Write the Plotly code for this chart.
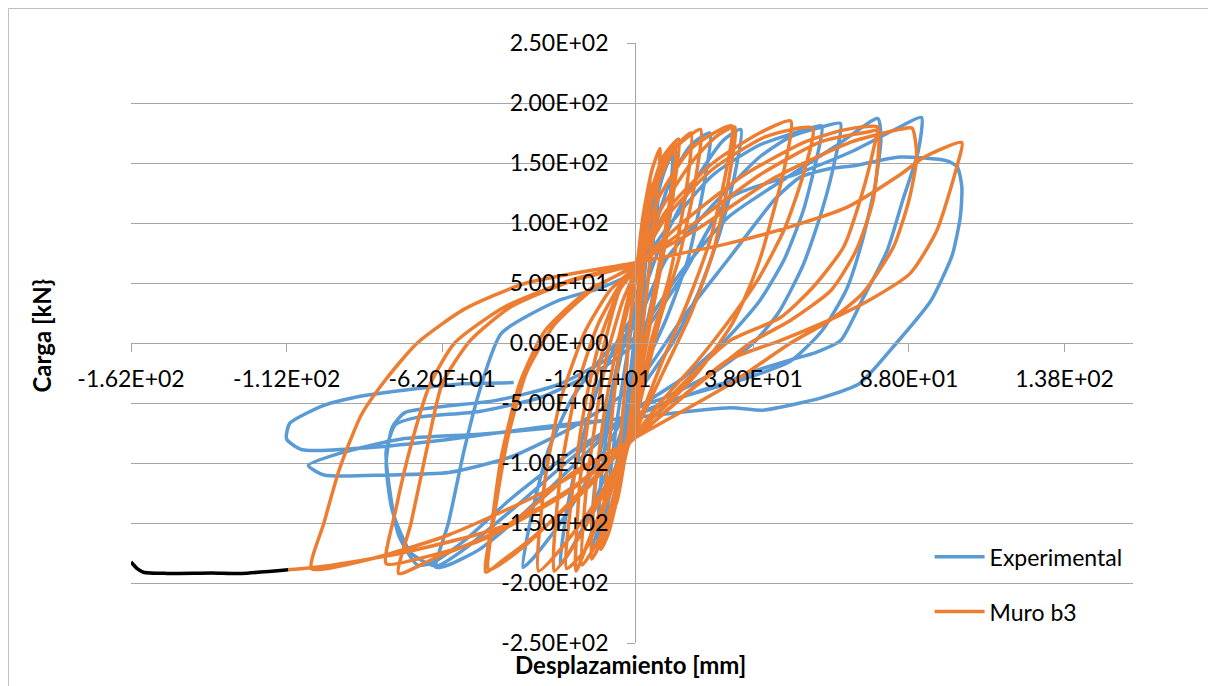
import plotly.graph_objects as go

# ---------------- data ----------------
x_tick_vals = [-162, -112, -62, -12, 38, 88, 138]
x_tick_text = ["-1.62E+02", "-1.12E+02", "-6.20E+01", "-1.20E+01", "3.80E+01", "8.80E+01", "1.38E+02"]
y_tick_vals = [-250, -200, -150, -100, -50, 0, 50, 100, 150, 200, 250]
y_tick_text = ["-2.50E+02", "-2.00E+02", "-1.50E+02", "-1.00E+02", "-5.00E+01", "0.00E+00",
               "5.00E+01", "1.00E+02", "1.50E+02", "2.00E+02", "2.50E+02"]

exp_pts = [
    (0, 0),
    (1, 40), (2, 70), (1.5, 40), (0, 0), (-1, -40), (-2, -70), (-1.5, -40), (0, 0),
    (2, 60), (4, 105), (3.5, 70), (1.5, 20), (0, -20), (-2, -65), (-4, -105), (-3.5, -70), (-1.5, -25), (0, 10),
    (3, 80), (6, 130), (8, 148), (7, 110), (4, 50), (1, -10), (-2, -60), (-6, -120), (-9, -150), (-8, -110), (-5, -50), (-2, 0), (0, 30),
    (4, 90), (9, 145), (13, 162), (12, 120), (8, 60), (3, 0), (0, -30), (-5, -90), (-10, -140), (-14, -170), (-13, -120), (-9, -60), (-5, -10), (0, 30),
    (4, 85), (9, 140), (12, 158), (11, 115), (7, 55), (2, -5), (0, -32), (-5, -95), (-10, -145), (-12, -165), (-11, -115), (-8, -55), (-4, -5), (0, 28),
    (5, 85), (12, 140), (18, 165), (24, 175), (22, 130), (17, 70), (10, 20), (3, -20), (0, -40), (-8, -100), (-16, -150), (-22, -178), (-24, -185),
    (-22, -140), (-17, -80), (-11, -30), (-5, 5), (0, 25),
    (8, 80), (18, 130), (28, 168), (34, 178), (32, 140), (27, 90), (20, 40), (12, 0), (0, -45), (-12, -100), (-24, -150), (-33, -180), (-36, -187),
    (-33, -140), (-28, -90), (-20, -45), (-10, -10), (0, 15),
    (10, 70), (25, 115), (40, 155), (50, 172), (60, 180), (66, 183), (64, 150), (60, 110), (54, 65), (46, 25), (38, 0), (25, -25), (10, -45), (0, -55),
    (-15, -90), (-35, -140), (-50, -172), (-60, -185), (-64, -187), (-60, -150), (-55, -90), (-50, -40), (-43, 8), (-25, 35), (-11, 46), (0, 60),
    (10, 95), (25, 140), (40, 165), (55, 178), (60, 181), (58, 150), (54, 110), (48, 70), (40, 35), (30, 5), (15, -30), (0, -55),
    (-20, -95), (-40, -140), (-55, -172), (-64, -186), (-72, -175), (-78, -140), (-80, -100), (-78, -70), (-74, -58), (-62, -53), (-45, -48),
    (-25, -35), (-10, -15), (0, 5),
    (15, 60), (30, 105), (50, 140), (65, 165), (78, 187), (79, 170), (77, 130), (73, 85), (68, 45), (60, 10), (50, -15), (35, -30), (15, -45), (0, -60),
    (-20, -90), (-40, -130), (-55, -165), (-65, -183), (-70, -185), (-76, -160), (-79, -120), (-80, -90), (-77, -68), (-70, -62), (-50, -57),
    (-30, -45), (-10, -20), (0, 0),
    (15, 55), (30.5, 121), (52, 141), (70, 160), (85, 180), (92, 188), (91, 160), (86, 119), (81, 77), (73, 36), (66, 2), (58, -8), (50, -14),
    (40, -22), (30, -32), (15, -45), (0, -60), (-25, -70), (-50, -76), (-75, -80), (-95, -92), (-105, -102), (-100, -110), (-80, -110),
    (-60, -108), (-40, -95), (-20, -70), (0, -35),
    (15, 20), (30, 70), (45, 120), (53, 138), (62, 145), (71, 148), (85, 155), (100, 152), (103.5, 147), (105, 130), (104.5, 105), (102, 74),
    (98, 50), (95, 35), (84, 0), (72, -34), (59.5, -46), (53, -50), (41, -56), (30.5, -54), (0, -62), (-30, -70), (-62, -81), (-85, -87),
    (-107, -89), (-112, -80), (-111, -67), (-100, -52), (-90.6, -45.6), (-70, -38), (-55, -34), (-39, -33),
]

muro_pts = [
    (0, 0),
    (1.5, 60), (3.5, 115), (5, 140), (4, 100), (2, 40), (0, -20), (-2, -70), (-4.5, -115), (-6, -135), (-5, -90), (-3, -30), (-1.5, 20), (0, 50),
    (2.5, 105), (5.5, 145), (8, 162), (6.5, 110), (4, 50), (1, -20), (-2, -70), (-5, -120), (-8.5, -158), (-11, -172), (-9.5, -120), (-7, -50),
    (-4, 10), (0, 55),
    (4, 115), (9, 155), (14, 170), (12, 120), (8, 60), (3, -10), (0, -55), (-5, -110), (-11, -160), (-17, -185), (-16, -130), (-13, -70), (-9, -10),
    (-4, 35), (0, 60),
    (4, 110), (9, 150), (13, 166), (11, 115), (7, 55), (2, -15), (0, -58), (-5, -115), (-10, -160), (-14, -180), (-13, -125), (-10, -60), (-6, -5),
    (-2, 40), (0, 60),
    (5, 120), (12, 160), (21, 178), (19, 130), (14, 70), (8, 20), (0, -65), (-8, -120), (-15, -165), (-19, -190), (-17.7, -115), (-14, -48),
    (-9.6, 2), (-5, 44), (0, 62),
    (6, 125), (13, 163), (18, 175), (16, 120), (11, 55), (5, 0), (0, -68), (-8, -125), (-16, -172), (-22, -188), (-20, -120), (-16, -50),
    (-11, 5), (-5, 45), (0, 63),
    (7, 118), (18, 162), (31, 181), (29, 140), (24, 85), (17, 35), (8, -20), (0, -72), (-12, -130), (-24, -172), (-31, -190), (-29, -115),
    (-24, -48), (-16, 10), (-8, 44), (0, 64),
    (8, 110), (18, 150), (26, 172), (32, 180), (30, 135), (25, 75), (18, 25), (8, -30), (0, -74), (-10, -125), (-20, -170), (-26, -190),
    (-24, -110), (-19, -40), (-12, 15), (-5, 48), (0, 65),
    (10, 110), (25, 150), (40, 175), (50, 185), (48, 146), (44, 105), (40, 69), (35, 36), (30.5, 13), (20, -25), (10, -52), (0, -76),
    (-15, -120), (-32, -160), (-43, -182), (-48, -191), (-46, -150), (-43, -95), (-37, -33), (-29, 10), (-15, 44), (0, 65),
    (10, 105), (25, 145), (42, 172), (57, 179), (54, 140), (48, 95), (40, 55), (32, 25), (20, -15), (8, -50), (0, -76), (-18, -125), (-35, -168),
    (-47, -189), (-45, -140), (-41, -80), (-35, -25), (-26, 15), (-13, 46), (0, 65),
    (15, 100), (35, 140), (55, 168), (68, 178), (78, 180), (77, 166), (73, 125), (67, 80), (57, 46), (46.6, 21), (30.5, 2), (15, -35), (0, -78),
    (-20, -120), (-45, -158), (-65, -180), (-76, -192), (-72, -150), (-67, -89), (-62, -34), (-53, 2), (-40, 30), (-20, 52), (0, 66),
    (18, 98), (40, 140), (60, 168), (75, 176), (78, 177), (76.5, 119), (71, 77), (63, 44), (50, 19), (37, 0), (20, -35), (0, -79), (-22, -125),
    (-50, -165), (-70, -180), (-80, -184), (-77, -140), (-72, -85), (-66, -35), (-58, 0), (-42, 30), (-20, 53), (0, 67),
    (20, 95), (45, 138), (70, 168), (85, 178), (89, 179), (90.5, 155), (88, 119), (83, 80), (73, 41), (62.6, 19), (50, 0), (30, -35), (0, -79),
    (-30, -125), (-60, -160), (-85, -180), (-104, -188), (-100, -150), (-95, -105), (-88, -60), (-80, -30), (-70, 0), (-55, 28), (-35, 50), (0, 67),
    (30, 83), (50, 97), (68, 113), (85, 140), (93, 155), (105, 167), (103.4, 147), (97, 94), (88.4, 58), (75.5, 36), (64.8, 22), (46.6, 2),
    (30, -14), (15, -45), (0, -79), (-20, -108), (-40, -150), (-75, -175), (-100, -186), (-111.5, -189),
]

tail_pts = [(-111.5, -189), (-126.5, -192), (-136, -191.6), (-150.5, -192), (-158, -191), (-160, -188), (-162, -182.5)]

exp_x = [p[0] for p in exp_pts]
exp_y = [p[1] for p in exp_pts]
muro_x = [p[0] for p in muro_pts]
muro_y = [p[1] for p in muro_pts]
tail_x = [p[0] for p in tail_pts]
tail_y = [p[1] for p in tail_pts]

# ---------------- figure ----------------
FONT = "Lato, 'Open Sans', sans-serif"
GRID = "#A6A6A6"
AXIS = "#A6A6A6"
TICK_SIZE = 23

fig = go.Figure()
fig.add_trace(go.Scatter(x=exp_x, y=exp_y, mode="lines", name="Experimental",
                         line=dict(color="#5B9BD5", width=3.5, shape="spline", smoothing=0.6),
                         legendgroup="a"))
fig.add_trace(go.Scatter(x=muro_x, y=muro_y, mode="lines", name="Muro b3",
                         line=dict(color="#ED7D31", width=3.5, shape="spline", smoothing=0.6),
                         legendgroup="b"))
fig.add_trace(go.Scatter(x=tail_x, y=tail_y, mode="lines", name="",
                         line=dict(color="#000000", width=3.5, shape="spline", smoothing=0.6),
                         showlegend=False))

# page body has an 8px margin: plot area should land at screen x 131..1133, y 43..643
fig.update_layout(
    width=1216, height=686,
    margin=dict(l=123, r=91, t=35, b=51),
    paper_bgcolor="white", plot_bgcolor="white",
    font=dict(family=FONT, size=TICK_SIZE, color="#000000"),
    showlegend=True,
    legend=dict(x=0.797, y=0.098, xanchor="left", yanchor="middle",
                bgcolor="rgba(0,0,0,0)", font=dict(size=TICK_SIZE),
                traceorder="grouped", tracegroupgap=22, itemwidth=50),
    xaxis=dict(range=[-162, 160], tickvals=x_tick_vals, ticktext=x_tick_text,
               showgrid=False, zeroline=False, showline=True, linecolor=AXIS, linewidth=1,
               ticks="outside", ticklen=8, tickcolor=AXIS, anchor="free", position=0.5,
               ticklabelstandoff=7, tickfont=dict(size=TICK_SIZE)),
    yaxis=dict(range=[-250, 250], tickvals=y_tick_vals, ticktext=y_tick_text,
               showgrid=True, gridcolor=GRID, gridwidth=1, zeroline=False,
               showline=True, linecolor=AXIS, linewidth=1,
               ticks="outside", ticklen=8, tickcolor=AXIS, anchor="free", position=162 / 322,
               ticklabelstandoff=14, tickfont=dict(size=TICK_SIZE)),
    annotations=[
        dict(text="<b>Desplazamiento [mm]</b>", xref="paper", yref="paper", x=0.499, y=-0.035,
             showarrow=False, font=dict(size=24), xanchor="center", yanchor="middle"),
        dict(text="<b>Carga [kN}</b>", xref="paper", yref="paper", x=-0.089, y=0.512,
             showarrow=False, font=dict(size=24), textangle=-90, xanchor="center", yanchor="middle"),
    ],
    shapes=[
        dict(type="rect", xref="paper", yref="paper", x0=-0.1223, x1=1.0818, y0=-0.1, y1=1.0575,
             line=dict(color="#BFBFBF", width=1), fillcolor="rgba(0,0,0,0)", layer="below"),
    ],
)

fig.write_html("out.html")
